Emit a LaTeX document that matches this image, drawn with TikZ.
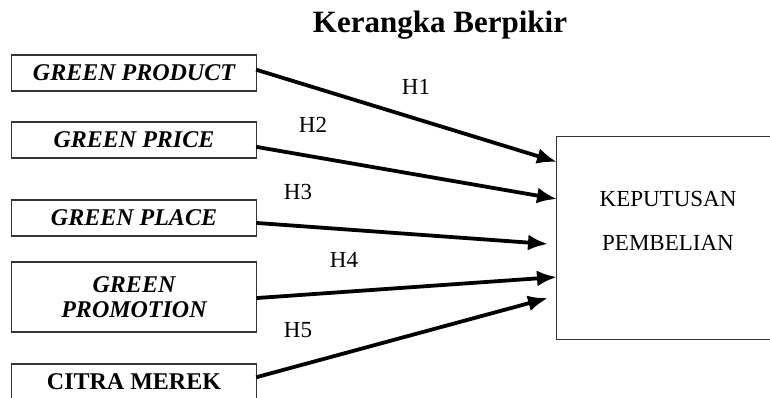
\documentclass[tikz,border=0pt]{standalone}
\usepackage{fontspec}
\setmainfont{Liberation Serif}
\usetikzlibrary{arrows.meta}

\tikzset{
  varbox/.style={draw=black!80, line width=1.3pt, minimum width=245pt, minimum height=36pt,
    inner sep=0pt, align=center, font=\fontsize{24}{25}\selectfont\bfseries\itshape},
  hlabel/.style={anchor=base, inner sep=0pt, font=\fontsize{23}{26}\selectfont},
  hyp/.style={line width=3.8pt, -{Latex[length=20pt,width=16pt]}, shorten <=-1pt}
}

\begin{document}
\begin{tikzpicture}[x=1pt, y=-1pt]

\useasboundingbox (0,0) rectangle (770,397);
\clip (0,0) rectangle (770,397);

\node[anchor=base, inner sep=0pt, font=\fontsize{31}{34}\selectfont\bfseries] (title) at (440, 32) {Kerangka Berpikir};

\node[varbox] (product) at (134, 73) {GREEN PRODUCT};
\node[varbox] (price) at (134, 140) {GREEN PRICE};
\node[varbox] (place) at (134, 218) {GREEN PLACE};
\node[varbox, minimum height=70pt] (promotion) at (134, 297) {GREEN\\PROMOTION};
\node[varbox, font=\fontsize{24}{25}\selectfont\bfseries] (merek) at (134, 382) {CITRA MEREK};

% box runs past the right edge
\node[minimum width=300pt, minimum height=202pt] (keputusan) at (707, 238) {};
\draw[black!80, line width=1.3pt] (keputusan.north east) -- (keputusan.north west) -- (keputusan.south west) -- (keputusan.south east);
\node[align=center, inner sep=0pt, font=\fontsize{23}{44}\selectfont] (kptext) at (668, 221) {KEPUTUSAN\\PEMBELIAN};

\coordinate (t1) at (557, 162);
\coordinate (t2) at (557, 199);
\coordinate (t3) at (548, 244);
\coordinate (t4) at (557, 277);
\coordinate (t5) at (548, 298);
%
\draw[hyp] ([yshift=3pt]product.east) -- (t1);
\draw[hyp] ([yshift=-7pt]price.east) -- (t2);
\draw[hyp] ([yshift=-5pt]place.east) -- (t3);
\draw[hyp] ([yshift=-1pt]promotion.east) -- (t4);
\draw[hyp] ([yshift=5pt]merek.east) -- (t5);

\node[hlabel] (h1) at (416, 94) {H1};
\node[hlabel] (h2) at (313, 132) {H2};
\node[hlabel] (h3) at (298, 199) {H3};
\node[hlabel] (h4) at (344, 267) {H4};
\node[hlabel] (h5) at (298, 337) {H5};

\end{tikzpicture}
\end{document}
